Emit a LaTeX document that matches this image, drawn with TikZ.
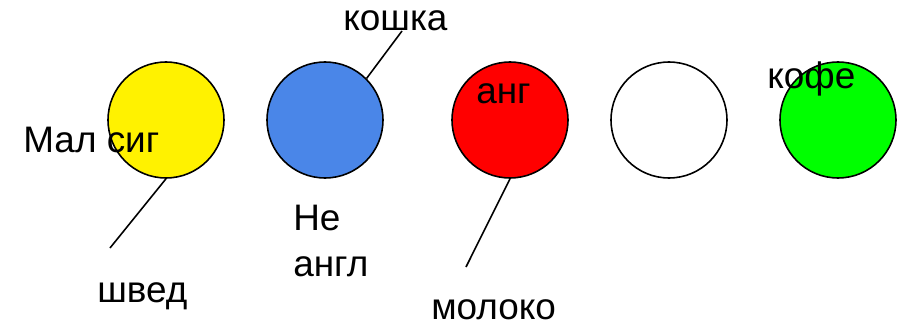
\documentclass[tikz,border=0pt]{standalone}
\usepackage{fontspec}
\setmainfont{Liberation Sans}
\tikzset{
	ball/.style={circle,draw=black,line width=0.9pt,minimum size=2.32cm,inner sep=0pt},
	word/.style={anchor=base west,inner sep=0pt,font=\fontsize{21}{25}\selectfont},
}
\begin{document}
\begin{tikzpicture}[x=0.02cm,y=-0.02cm]
		\useasboundingbox (0,0) rectangle (904,328);
		\node[ball,fill=yellow] (yellow) at (166,120) {};
		\node[ball,fill={rgb,255:red,74;green,134;blue,232}] (blue) at (325,120) {};
		\node[ball,fill=red] (red) at (510,120) {};
		\node[ball,fill=white] (white) at (669,120) {};
		\node[ball,fill={rgb,255:red,0;green,255;blue,0}] (green) at (838,120) {};
		\node[word] (malsig) at (23,153) {Мал сиг};
		\node[word] (shved) at (97,302) {швед};
		\node[word] (koshka) at (343,31) {кошка};
		\node[word,align=left,anchor=north west] (neangl) at (293,205) {Не\\[1pt]англ};
		\node[word] (ang) at (476,103) {анг};
		\node[word] (moloko) at (431,319) {молоко};
		\node[word] (kofe) at (767,89) {кофе};
		\coordinate (shvedtip) at (110,248);
		\coordinate (koshkatip) at (402,31);
		\coordinate (molokotip) at (466,267);
		\draw[line width=0.9pt] (yellow.south)--(shvedtip);
		\draw[line width=0.9pt] (blue.45)--(koshkatip);
		\draw[line width=0.9pt] (red.south)--(molokotip);
	\end{tikzpicture}
\end{document}
